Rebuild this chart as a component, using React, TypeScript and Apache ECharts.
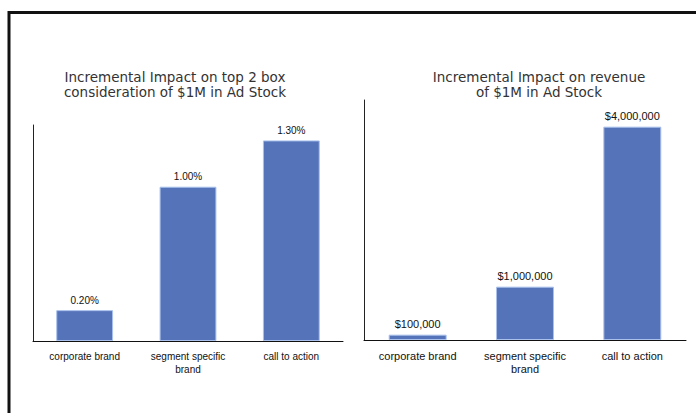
import React, { useEffect, useRef } from "react";
import * as echarts from "echarts";

const categories = ["corporate brand", "segment specific\nbrand", "call to action"];
const considerationValues = [0.2, 1.0, 1.3];
const revenueValues = [100000, 1000000, 4000000];
const leftTitle = "Incremental Impact on top 2 box\nconsideration of $1M in Ad Stock";
const rightTitle = "Incremental Impact on revenue\nof $1M in Ad Stock";

const BAR = "#5573B8";
const BAR_BORDER = "#A9C1EC";
const LABEL_FONT = "Liberation Sans";

export default function App() {
  const ref = useRef<HTMLDivElement>(null);
  useEffect(() => {
    if (!ref.current) return;
    const chart = echarts.init(ref.current, undefined, { renderer: "svg" });
    const catAxis = (gridIndex: number, fontSize: number) => ({
      type: "category" as const,
      gridIndex,
      data: categories,
      axisLine: { show: true, lineStyle: { color: "#111", width: 1 } },
      axisTick: { show: false },
      axisLabel: {
        color: "#111",
        fontFamily: LABEL_FONT,
        fontSize,
        lineHeight: 13,
        margin: 9,
        interval: 0,
      },
    });
    const valAxis = (gridIndex: number, max: number) => ({
      type: "value" as const,
      gridIndex,
      min: 0,
      max,
      axisLine: { show: true, lineStyle: { color: "#222", width: 1 } },
      axisTick: { show: false },
      axisLabel: { show: false },
      splitLine: { show: false },
    });
    const barLabel = (fontSize: number) => ({
      show: true,
      position: "top" as const,
      distance: 5,
      color: "#111",
      fontFamily: LABEL_FONT,
      fontSize,
    });
    const titleStyle = {
      fontFamily: "DejaVu Sans",
      fontSize: 13.5,
      lineHeight: 15,
      fill: "#333",
      align: "center",
      verticalAlign: "top",
    };
    chart.setOption({
      animation: false,
      backgroundColor: "#fff",
      grid: [
        { left: 33, top: 125, width: 310, height: 216 },
        { left: 364, top: 100, width: 322, height: 240 },
      ],
      xAxis: [catAxis(0, 10), catAxis(1, 11)],
      yAxis: [valAxis(0, 1.4), valAxis(1, 4500000)],
      series: [
        {
          type: "bar",
          xAxisIndex: 0,
          yAxisIndex: 0,
          data: considerationValues,
          barWidth: "55%",
          itemStyle: { color: BAR, borderColor: BAR_BORDER, borderWidth: 1 },
          label: { ...barLabel(10), formatter: (p: any) => p.value.toFixed(2) + "%" },
        },
        {
          type: "bar",
          xAxisIndex: 1,
          yAxisIndex: 1,
          data: revenueValues,
          barWidth: "54%",
          itemStyle: { color: BAR, borderColor: BAR_BORDER, borderWidth: 1 },
          label: {
            ...barLabel(11),
            formatter: (p: any) => "$" + Number(p.value).toLocaleString("en-US"),
          },
        },
      ],
      graphic: [
        {
          type: "polyline",
          shape: { points: [[9, 430], [9, 12.5], [710, 12.5]] },
          style: { stroke: "#111", lineWidth: 3, fill: null },
          silent: true,
        },
        {
          type: "text",
          x: 175,
          y: 69,
          style: { ...titleStyle, text: leftTitle },
        },
        {
          type: "text",
          x: 539,
          y: 69,
          style: { ...titleStyle, text: rightTitle },
        },
      ],
    });
    return () => chart.dispose();
  }, []);
  return (
    <div
      ref={ref}
      style={{ position: "fixed", left: 0, top: 0, width: 696, height: 413, background: "#fff" }}
    />
  );
}
